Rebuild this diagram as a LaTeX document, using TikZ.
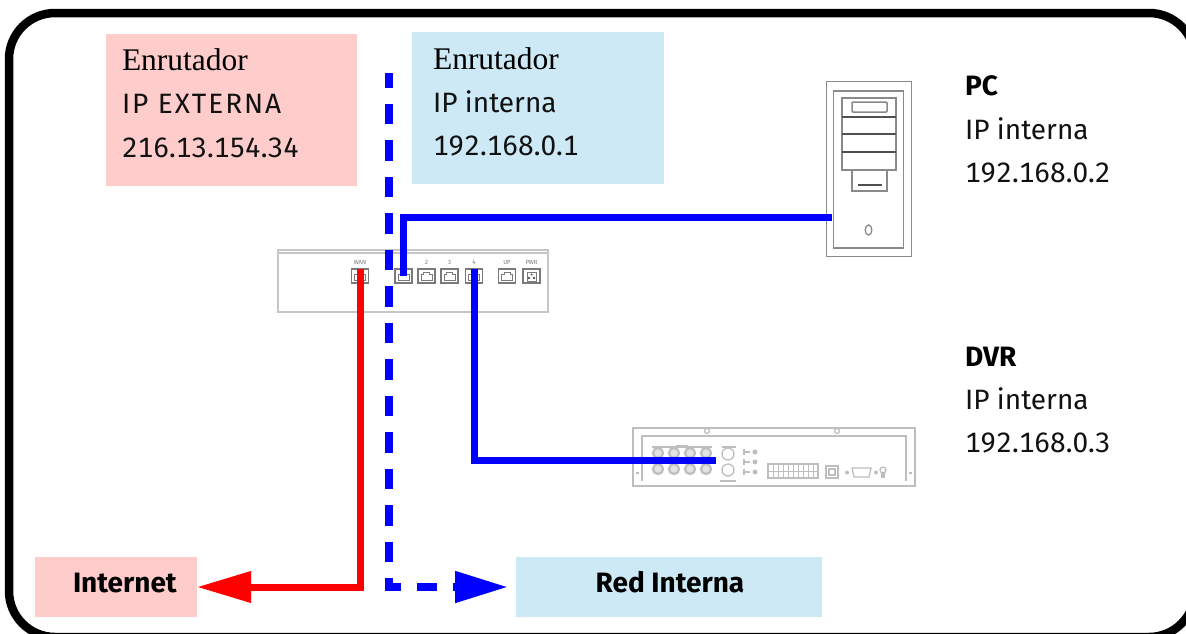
\documentclass[tikz,border=0pt]{standalone}
\usepackage{fontspec}
\setmainfont{Fira Sans}[Numbers={Monospaced,Lining}]
\newfontfamily\headserif{Liberation Serif}
\usetikzlibrary{arrows.meta}

\definecolor{extpink}{HTML}{FFCCCC}
\definecolor{intblue}{HTML}{CCE9F5}
\definecolor{wirered}{HTML}{FF0000}
\definecolor{wireblue}{HTML}{0000FF}
\definecolor{devgray}{HTML}{8A8A8A}
\definecolor{darkgray}{HTML}{505050}
\definecolor{portgray}{HTML}{7A7A7A}
\definecolor{caseGray}{HTML}{C6C6C6}
\definecolor{dvrgray}{HTML}{BEBEBE}
\definecolor{inktext}{HTML}{111111}

\begin{document}
\begin{tikzpicture}[x=1pt,y=-1pt,
  every node/.style={inner sep=0pt, outer sep=0pt},
  infotext/.style={anchor=base west, text=inktext, font=\fontsize{28}{34}\selectfont},
  serifhead/.style={anchor=base west, font=\headserif\fontsize{31.5}{37}\selectfont},
  boldtext/.style={anchor=base west, font=\bfseries\fontsize{28}{34}\selectfont},
  wire/.style={line width=7pt, line join=miter},
  dashwire/.style={line width=8pt, line join=miter, dash pattern=on 20.5pt off 16pt, dash phase=6pt},
  device/.style={draw=devgray, line width=1.8pt},
  rjport/.style={rectangle, draw=portgray, line width=1.4pt, minimum width=17pt, minimum height=14pt, fill=white},
  portlbl/.style={font=\fontsize{6}{6}\selectfont, text=portgray},
  dvrpart/.style={draw=dvrgray, line width=1.3pt},
]
\useasboundingbox (0,0) rectangle (1186,633);
\clip (0,0) rectangle (1186,633);
\fill[white] (0,0) rectangle (1186,633);

% outer frame
\draw[line width=8.5pt, rounded corners=46pt] (9,13) rectangle (1195,637);

% address boxes
\node[fill=extpink, minimum width=251pt, minimum height=152pt] (extbox) at (231.5,110) {};
\node[fill=intblue, minimum width=252pt, minimum height=152pt] (intbox) at (538,108) {};
\node[fill=extpink, minimum width=162pt, minimum height=60pt] (inet) at (116,587) {};
\node[fill=intblue, minimum width=306pt, minimum height=60pt] (lan) at (669,587) {};

\node[serifhead] (extT1) at (122,70) {Enrutador};
\node[infotext] (extT2) at (122,113) {\addfontfeature{LetterSpace=7}IP EXTERNA};
\node[infotext] (extT3) at (122,157) {216.13.154.34};
\node[serifhead] (intT1) at (433,69) {Enrutador};
\node[infotext] (intT2) at (433,112) {IP interna};
\node[infotext] (intT3) at (433,155) {192.168.0.1};
\node[boldtext] (pcT1) at (965,95) {PC};
\node[infotext] (pcT2) at (965,139) {IP interna};
\node[infotext] (pcT3) at (965,182) {192.168.0.2};
\node[boldtext] (dvrT1) at (965,366) {DVR};
\node[infotext] (dvrT2) at (965,409) {IP interna};
\node[infotext] (dvrT3) at (965,452) {192.168.0.3};
\node[boldtext] (inetT) at (73,592) {Internet};
\node[boldtext, anchor=base] (lanT) at (670,592) {Red Interna};

% router
\node[draw=caseGray, line width=1.6pt, minimum width=270pt, minimum height=62pt] (router) at (413,281) {};
\draw[caseGray, line width=2pt] (279,253) -- (547,253);
\foreach \nm/\px in {wan/360, p1/403.5, p2/426.5, p3/449.5, p4/474, up/507}{
  \node[rjport] (\nm) at (\px,276) {};
  \draw[portgray, line width=1pt] (\px-5.5,280) -- (\px-5.5,274.5) -- (\px-3,274.5) -- (\px-3,272.5) -- (\px+3,272.5) -- (\px+3,274.5) -- (\px+5.5,274.5) -- (\px+5.5,280) -- cycle;
}
\node[rjport] (pwr) at (531.5,276) {};
\draw[portgray, line width=1pt] (527,272) rectangle (536,281);
\fill[darkgray] (529,278) circle (1.3pt) (534,278) circle (1.3pt) (531.5,274.5) circle (1.1pt);
\node[portlbl] (wanL) at (360,262) {WAN};
\node[portlbl] (p2L) at (426.5,262) {2};
\node[portlbl] (p3L) at (449.5,262) {3};
\node[portlbl] (p4L) at (474,262) {4};
\node[portlbl] (upL) at (507,262) {UP};
\node[portlbl] (pwrL) at (531.5,262) {PWR};

% PC tower
\node[device, minimum width=85pt, minimum height=175pt] (pc) at (869,169) {};
\draw[device, line width=1.6pt] (833.5,91) rectangle (903.5,248);
\draw[device, line width=1.6pt] (842,98) rectangle (896,170);
\draw[darkgray, line width=1.8pt] (842,117) -- (896,117) (842,134) -- (896,134) (842,152) -- (896,152);
\draw[device, line width=1.5pt, rounded corners=1pt] (852,102) rectangle (887,112);
\draw[device, line width=1.5pt] (852,170) rectangle (887,191);
\draw[darkgray, line width=2pt] (858,185) -- (882,185);
\draw[device, line width=1.3pt] (868.5,230) ellipse (3.3pt and 5pt);

% DVR rear panel
\node[dvrpart, minimum width=282pt, minimum height=58pt] (dvr) at (774,457) {};
\draw[dvrpart] (642,481) -- (642,436) -- (906,436) -- (906,481);
\foreach \sx in {707,837}{
  \draw[dvrpart] (\sx,431) circle (2.5pt);
}
\draw[dvrpart] (636,473) -- (639,473) (909,473) -- (912,473);
\draw[dvrpart] (652,447) -- (712,447);
\fill[dvrgray] (676,445) rectangle (688,448);
\foreach \cx in {658,674,690,706}{
  \draw[dvrgray, line width=2.2pt, fill=dvrgray!45] (\cx,453) circle (5pt);
  \draw[dvrgray, line width=2.2pt, fill=dvrgray!45] (\cx,469) circle (5pt);
}
\draw[dvrpart] (728,454) circle (6pt);
\draw[dvrpart] (728,470) circle (6pt);
\draw[dvrpart] (720,481) -- (736,481);
\draw[dvrpart] (722,447) -- (736,447);
\foreach \ky in {452,462,472}{
  \draw[dvrpart] (744,\ky) -- (750,\ky) (744,\ky-3) -- (744,\ky+3);
  \fill[dvrgray] (755,\ky) circle (2.5pt);
}
\draw[dvrpart] (768,464) rectangle (818,478);
\foreach \tx in {773,778,783,788,793,798,803,808,813}{
  \draw[dvrgray, line width=0.8pt] (\tx,465) -- (\tx,477);
}
\draw[dvrgray, line width=0.8pt] (768,471) -- (818,471);
\draw[dvrpart] (826,466) rectangle (838,478);
\draw[dvrpart] (829,469) rectangle (835,475);
\draw[dvrpart] (852,468) -- (871,468) -- (869,477) -- (854,477) -- cycle;
\fill[dvrgray] (847,472.5) circle (2pt) (876,472.5) circle (2pt);
\draw[dvrpart] (883,470) circle (3pt);
\draw[dvrpart] (882,473) -- (882,478) (884,473) -- (884,478);

% connection points at the devices
\coordinate (pcjack) at (832,217);
\coordinate (dvrjack) at (716,460);
\coordinate (lanTop) at (389,73);

% cables
\draw[wire, wireblue] (pcjack) -| (p1.center);
\draw[wire, wireblue] (p4.north) |- (dvrjack);
\draw[wire, wirered, -{Triangle[length=54pt, width=30pt]}] (wan.north) |- (inet.east);
\draw[dashwire, wireblue, -{Triangle[length=53pt, width=30pt]}, shorten >=8pt] (lanTop) |- (lan.west);
\end{tikzpicture}
\end{document}
